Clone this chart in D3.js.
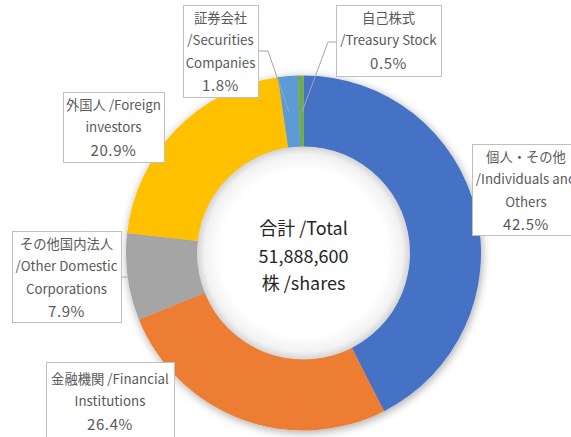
<!DOCTYPE html>
<html>
<head>
<meta charset="utf-8">
<script src="https://cdn.jsdelivr.net/npm/d3@7"></script>
<style>
  body { margin: 0; background: #fff; }
  svg { display: block; }
  text { font-family: "Noto Sans CJK JP", "Noto Sans", sans-serif; }
</style>
</head>
<body>
<svg id="chart"></svg>
<script>
// shareholder categories, clockwise from 12 o'clock
const categories = ["個人・その他 /Individuals and Others", "金融機関 /Financial Institutions",
  "その他国内法人 /Other Domestic Corporations", "外国人 /Foreign investors",
  "証券会社 /Securities Companies", "自己株式 /Treasury Stock"];
const labelLines = [
  ["個人・その他", "/Individuals and", "Others"],
  ["金融機関 /Financial", "Institutions"],
  ["その他国内法人", "/Other Domestic", "Corporations"],
  ["外国人 /Foreign", "investors"],
  ["証券会社", "/Securities", "Companies"],
  ["自己株式", "/Treasury Stock"]
];
const percents = [42.5, 26.4, 7.9, 20.9, 1.8, 0.5];
const colors = ["#4472C4", "#ED7D31", "#A5A5A5", "#FFC000", "#5B9BD5", "#70AD47"];
const totalLines = ["合計 /Total", "51,888,600", "株 /shares"];

const width = 571, height = 437;
const cx = 303.5, cy = 253;
const outerR = 177.5, innerR = 106;

// label box placement (box left/top/width/height, first line y)
const boxes = [
  {x: 472, y: 144, w: 108, h: 91, ty: 157},
  {x: 46, y: 362, w: 128, h: 80, ty: 379},
  {x: 12, y: 231, w: 109, h: 91, ty: 244},
  {x: 63, y: 92, w: 101, h: 70, ty: 105},
  {x: 183, y: 5, w: 75, h: 92, ty: 18},
  {x: 336, y: 5, w: 105, h: 71, ty: 18}
];
const leaders = [
  null, null,
  [[121, 277], [128, 277]],
  null,
  [[258, 51], [268, 51], [289, 112]],
  [[336, 42], [328, 42], [302, 112]]
];

const svg = d3.select("#chart")
  .attr("width", width)
  .attr("height", height);

const defs = svg.append("defs");

const glow = defs.append("filter").attr("id", "glow")
  .attr("x", "-20%").attr("y", "-20%").attr("width", "140%").attr("height", "140%");
glow.append("feGaussianBlur").attr("in", "SourceAlpha").attr("stdDeviation", 5).attr("result", "blur");
glow.append("feOffset").attr("in", "blur").attr("dx", 1).attr("dy", 2).attr("result", "off");
glow.append("feComponentTransfer").attr("in", "off").attr("result", "soft")
  .append("feFuncA").attr("type", "linear").attr("slope", 0.35);
const merge = glow.append("feMerge");
merge.append("feMergeNode").attr("in", "soft");
merge.append("feMergeNode").attr("in", "SourceGraphic");

const holeGrad = defs.append("radialGradient").attr("id", "hole");
holeGrad.append("stop").attr("offset", "0%").attr("stop-color", "#ffffff");
holeGrad.append("stop").attr("offset", "78%").attr("stop-color", "#ffffff");
holeGrad.append("stop").attr("offset", "93%").attr("stop-color", "#f2f2f2");
holeGrad.append("stop").attr("offset", "100%").attr("stop-color", "#d4d4d4");

const pie = d3.pie().sort(null).value(d => d);
const arc = d3.arc().innerRadius(innerR).outerRadius(outerR);
const arcs = pie(percents);

const g = svg.append("g").attr("transform", `translate(${cx},${cy})`);

g.append("g")
  .attr("filter", "url(#glow)")
  .selectAll("path")
  .data(arcs)
  .join("path")
  .attr("d", arc)
  .attr("fill", (d, i) => colors[i]);

g.append("circle")
  .attr("r", innerR + 0.5)
  .attr("fill", "url(#hole)");

// centre total
g.append("text")
  .attr("text-anchor", "middle")
  .attr("fill", "#262626")
  .attr("font-size", 18)
  .selectAll("tspan")
  .data(totalLines)
  .join("tspan")
  .attr("x", 0)
  .attr("y", (d, i) => -24 + i * 27.5)
  .attr("dy", "0.35em")
  .text(d => d);

// leader lines
const line = d3.line();
svg.append("g")
  .selectAll("path")
  .data(leaders.filter(d => d))
  .join("path")
  .attr("d", line)
  .attr("fill", "none")
  .attr("stroke", "#a6a6a6")
  .attr("stroke-width", 1);

// data labels
const lab = svg.append("g")
  .selectAll("g")
  .data(arcs)
  .join("g");

lab.append("rect")
  .attr("x", (d, i) => boxes[i].x + 0.5)
  .attr("y", (d, i) => boxes[i].y + 0.5)
  .attr("width", (d, i) => boxes[i].w)
  .attr("height", (d, i) => boxes[i].h)
  .attr("fill", "#fff")
  .attr("stroke", "#bfbfbf");

lab.append("text")
  .attr("text-anchor", "middle")
  .attr("fill", "#595959")
  .each(function(d, i) {
    const b = boxes[i];
    const t = d3.select(this);
    const rows = labelLines[i].concat([d3.format(".1f")(percents[i]) + "%"]);
    t.selectAll("tspan")
      .data(rows)
      .join("tspan")
      .attr("x", b.x + b.w / 2)
      .attr("y", (r, k) => b.ty + k * 22.7)
      .attr("dy", "0.35em")
      .attr("font-size", (r, k) => k === rows.length - 1 ? 15 : 13.3)
      .attr("letter-spacing", (r, k) => k === rows.length - 1 ? 0.6 : 0)
      .text(r => r);
  });
</script>
</body>
</html>
